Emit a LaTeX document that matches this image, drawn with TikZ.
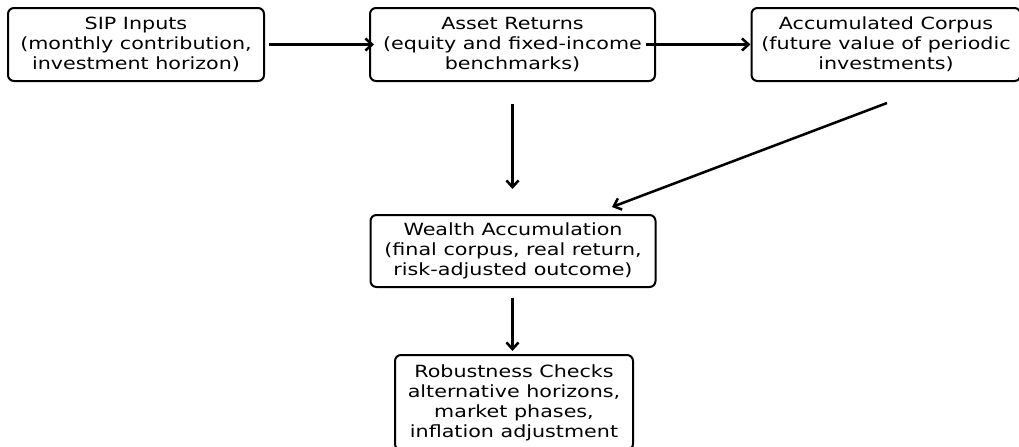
\documentclass[tikz,border=0pt]{standalone}
\usepackage{fontspec}
\setmainfont{DejaVu Sans}[FakeStretch=1.23]
\usetikzlibrary{calc,arrows.meta}
\tikzset{
  box/.style={draw=black, line width=1.5pt, rounded corners=4.5pt, inner sep=0pt,
    align=center, font=\fontsize{12.6}{15}\selectfont, text=black},
  conn/.style={line width=1.9pt, -{Straight Barb[length=5pt,width=9pt,line width=1.9pt]}}
}
\begin{document}
\begin{tikzpicture}[x=0.75pt,y=-0.75pt]
\clip (0,0) rectangle (1019,446);
\node[box, minimum width=192pt, minimum height=54.75pt] (sip) at (136,44.5)
  {SIP Inputs\\(monthly contribution,\\investment horizon)};
\node[box, minimum width=213.75pt, minimum height=54.75pt] (asset) at (512.5,44.5)
  {Asset Returns\\(equity and fixed-income\\benchmarks)};
\node[box, minimum width=201.75pt, minimum height=54.75pt] (accum) at (886,44.5)
  {Accumulated Corpus\\(future value of periodic\\investments)};
\node[box, minimum width=213.75pt, minimum height=54pt] (wealth) at (513,251)
  {Wealth Accumulation\\(final corpus, real return,\\risk-adjusted outcome)};
\node[box, minimum width=178.5pt, minimum height=71.25pt] (robust) at (514,402.5)
  {Robustness Checks\\alternative horizons,\\market phases,\\inflation adjustment};
\draw[conn] ($(sip.east)+(4,0)$) -- ($(asset.west)+(5,0)$);
\draw[conn] ($(asset.east)+(-10,0)$) -- (accum.west);
\draw[conn] ($(asset.south)+(0,22)$) -- ($(wealth.north)+(-0.5,-25)$);
\draw[conn] ($(accum.south)+(1,21)$) -- ($(wealth.north)+(99,-7)$);
\draw[conn] ($(wealth.south)+(-0.5,10)$) -- ($(robust.north)+(-1.5,-3)$);
\end{tikzpicture}
\end{document}
